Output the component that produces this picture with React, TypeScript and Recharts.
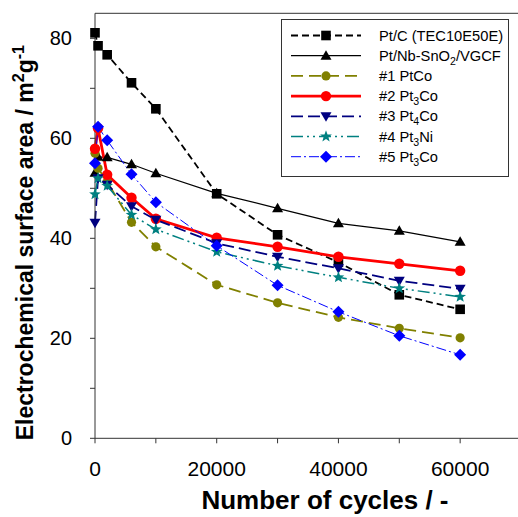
import React from 'react';
import { LineChart, Line, XAxis, YAxis, ReferenceLine } from 'recharts';

// cycles and ECSA (m2/g)
const cycles = [0, 500, 2000, 6000, 10000, 20000, 30000, 40000, 50000, 60000];
const ptC = [81.1, 78.5, 76.7, 71.1, 65.9, 48.9, 40.7, 35.2, 28.7, 25.8];
const ptNbSnO2 = [53.1, 56.3, 56.2, 54.8, 53.0, 49.0, 46.0, 43.0, 41.5, 39.3];
const ptCo1 = [57.0, 54.0, 51.3, 43.2, 38.3, 30.7, 27.1, 24.2, 22.0, 20.1];
const pt3Co2 = [57.9, 62.0, 52.7, 48.1, 43.9, 40.1, 38.3, 36.3, 34.9, 33.5];
const pt4Co3 = [43.1, 52.0, 50.7, 46.4, 43.7, 39.0, 36.3, 34.0, 31.5, 29.9];
const pt3Ni4 = [48.8, 52.0, 50.5, 44.7, 41.8, 37.3, 34.5, 32.2, 30.0, 28.3];
const pt3Co5 = [55.0, 62.3, 59.6, 52.8, 47.2, 38.5, 30.6, 25.3, 20.5, 16.7];

const xTicks = [0, 10000, 20000, 30000, 40000, 50000, 60000];
const yTicks = [0, 10, 20, 30, 40, 50, 60, 70, 80];

const FONT = '"Liberation Sans", Arial, sans-serif';

// "_x" marks a subscript character
const series = [
  { key: 'ptC', label: 'Pt/C (TEC10E50E)', values: ptC, color: '#000000', width: 1.8, dash: '7 4', shape: 'square' },
  { key: 'ptNbSnO2', label: 'Pt/Nb-SnO_2/VGCF', values: ptNbSnO2, color: '#000000', width: 1.2, dash: undefined, shape: 'triUp' },
  { key: 'ptCo1', label: '#1 PtCo', values: ptCo1, color: '#808000', width: 1.8, dash: '12 6', shape: 'circle' },
  { key: 'pt3Co2', label: '#2 Pt_3Co', values: pt3Co2, color: '#ff0000', width: 2.8, dash: undefined, shape: 'circleBig' },
  { key: 'pt4Co3', label: '#3 Pt_4Co', values: pt4Co3, color: '#000080', width: 1.8, dash: '12 5', shape: 'triDown' },
  { key: 'pt3Ni4', label: '#4 Pt_3Ni', values: pt3Ni4, color: '#008080', width: 1.5, dash: '12 4 2 4 2 4', shape: 'star' },
  { key: 'pt3Co5', label: '#5 Pt_3Co', values: pt3Co5, color: '#0000ff', width: 1, dash: '10 3 2 3', shape: 'diamond' },
];

const tableData = cycles.map((c, i) => {
  const row: any = { cycles: c };
  series.forEach(s => { row[s.key] = s.values[i]; });
  return row;
});

const starPoints = (cx: number, cy: number, ro: number, ri: number) => {
  const pts: string[] = [];
  for (let k = 0; k < 10; k++) {
    const r = k % 2 === 0 ? ro : ri;
    const a = -Math.PI / 2 + (k * Math.PI) / 5;
    pts.push(`${cx + r * Math.cos(a)},${cy + r * Math.sin(a)}`);
  }
  return pts.join(' ');
};

const Marker = ({ shape, cx, cy, color }: any) => {
  switch (shape) {
    case 'square':
      return <rect x={cx - 4.8} y={cy - 4.8} width={9.6} height={9.6} fill={color} />;
    case 'triUp':
      return <polygon points={`${cx},${cy - 5.5} ${cx + 5.5},${cy + 4} ${cx - 5.5},${cy + 4}`} fill={color} />;
    case 'triDown':
      return <polygon points={`${cx},${cy + 5.5} ${cx + 5.5},${cy - 4} ${cx - 5.5},${cy - 4}`} fill={color} />;
    case 'circle':
      return <circle cx={cx} cy={cy} r={4.6} fill={color} />;
    case 'circleBig':
      return <circle cx={cx} cy={cy} r={5.2} fill={color} />;
    case 'star':
      return <polygon points={starPoints(cx, cy, 6.2, 2.6)} fill={color} />;
    case 'diamond':
      return <polygon points={`${cx},${cy - 6} ${cx + 6},${cy} ${cx},${cy + 6} ${cx - 6},${cy}`} fill={color} />;
    default:
      return null;
  }
};

const RichText = ({ text }: { text: string }) => {
  const parts = text.split(/(_.)/).filter(p => p !== '');
  return (
    <>
      {parts.map((p, i) =>
        p.startsWith('_') ? (
          <tspan key={i} fontSize="0.72em" dy={4}>{p.slice(1)}</tspan>
        ) : (
          <tspan key={i} dy={i > 0 && parts[i - 1].startsWith('_') ? -4 : 0}>{p}</tspan>
        )
      )}
    </>
  );
};

const LegendBox = () => (
  <div
    style={{
      position: 'absolute', left: 281, top: 19, width: 226, height: 156,
      border: '1px solid #333', background: '#fff',
    }}
  >
    <svg width={226} height={156}>
      {series.map((s, i) => {
        const y = 15.5 + i * 20.2;
        return (
          <g key={s.key}>
            <line x1={9} x2={79} y1={y} y2={y} stroke={s.color} strokeWidth={s.width} strokeDasharray={s.dash} />
            <Marker shape={s.shape} cx={44} cy={y} color={s.color} />
            <text x={97} y={y + 5} fontSize={14.7} fontFamily={FONT} fill="#000">
              <RichText text={s.label} />
            </text>
          </g>
        );
      })}
    </svg>
  </div>
);

const YTitle = (props: any) => {
  const vb = props.viewBox || { x: 0, y: 0, height: 0 };
  const x = 33;
  const y = vb.y + vb.height + 2;
  return (
    <text
      x={x} y={y} transform={`rotate(-90, ${x}, ${y})`}
      fontSize={23} fontWeight="bold" fontFamily={FONT} fill="#000" textAnchor="start"
    >
      Electrochemical surface area / m
      <tspan fontSize="0.7em" dy={-9}>2</tspan>
      <tspan dy={9}>g</tspan>
      <tspan fontSize="0.7em" dy={-9}>-1</tspan>
    </text>
  );
};

const XTitle = (props: any) => {
  const vb = props.viewBox || { x: 0, y: 0 };
  return (
    <text
      x={325} y={vb.y + 71} fontSize={26} fontWeight="bold" fontFamily={FONT}
      fill="#000" textAnchor="middle"
    >
      Number of cycles / -
    </text>
  );
};

const App: React.FC = () => (
  <div style={{ position: 'absolute', left: 0, top: 0, width: 518, height: 517, overflow: 'hidden', background: '#fff' }}>
    <LineChart width={521} height={517} data={tableData} margin={{ top: 13.3, right: 0, bottom: 0, left: 0 }}>
      <XAxis
        type="number" dataKey="cycles" domain={[0, 70000]} ticks={xTicks}
        tickFormatter={(v: number) => (v % 20000 === 0 ? String(v) : '')}
        tickSize={5} tickMargin={18} height={78.7}
        stroke="#333" tick={{ fill: '#000', fontSize: 21, fontFamily: FONT }}
        label={<XTitle />}
      />
      <YAxis
        type="number" domain={[0, 85]} ticks={yTicks} allowDataOverflow
        tickFormatter={(v: number) => (v % 20 === 0 ? String(v) : '')}
        tickSize={5} tickMargin={18} width={95}
        stroke="#333" tick={{ fill: '#000', fontSize: 20, fontFamily: FONT }}
        label={<YTitle />}
      />
      <ReferenceLine y={85} stroke="#333" strokeWidth={1} />
      {series.map(s => (
        <Line
          key={s.key}
          dataKey={s.key}
          name={s.label}
          stroke={s.color}
          strokeWidth={s.width}
          strokeDasharray={s.dash}
          isAnimationActive={false}
          activeDot={false}
          dot={(p: any) => <Marker key={`${s.key}-${p.index}`} shape={s.shape} cx={p.cx} cy={p.cy} color={s.color} />}
        />
      ))}
    </LineChart>
    <LegendBox />
  </div>
);

export default App;
